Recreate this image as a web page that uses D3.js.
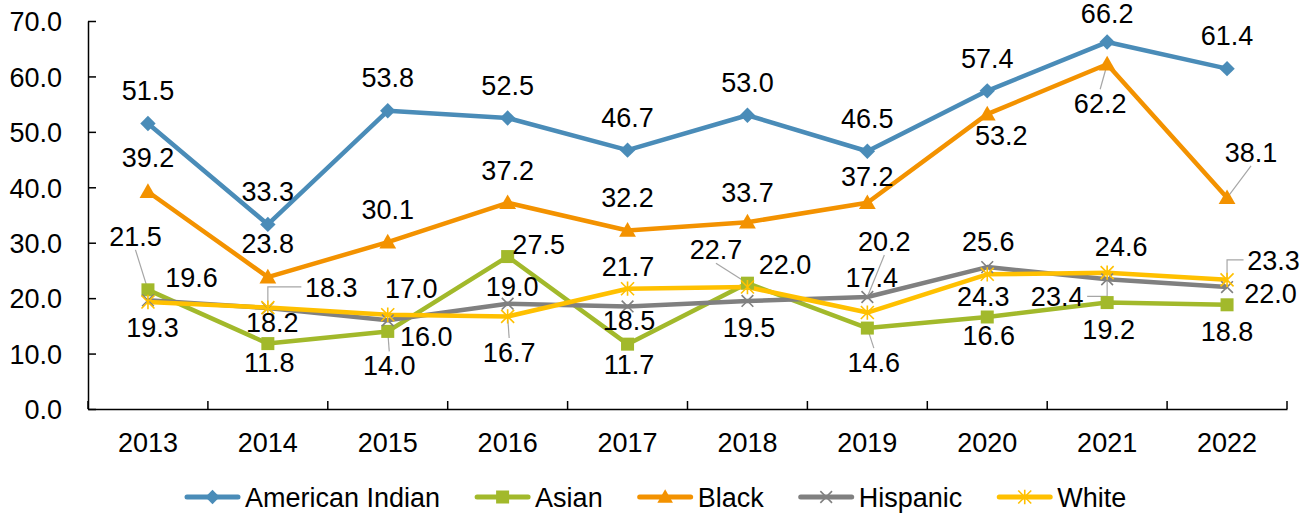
<!DOCTYPE html>
<html>
<head>
<meta charset="utf-8">
<script src="https://cdn.jsdelivr.net/npm/d3@7"></script>
<style>
  html, body { margin: 0; padding: 0; background: #fff; }
  svg { display: block; font-family: "Liberation Sans", Arial, sans-serif; }
</style>
</head>
<body>
<svg id="chart" width="1314" height="514"></svg>
<script>
// ---------------- DATA ----------------
const years = ["2013","2014","2015","2016","2017","2018","2019","2020","2021","2022"];
const americanIndian = [51.5, 33.3, 53.8, 52.5, 46.7, 53.0, 46.5, 57.4, 66.2, 61.4];
const asian          = [21.5, 11.8, 14.0, 27.5, 11.7, 22.7, 14.6, 16.6, 19.2, 18.8];
const black          = [39.2, 23.8, 30.1, 37.2, 32.2, 33.7, 37.2, 53.2, 62.2, 38.1];
const hispanic       = [19.6, 18.2, 16.0, 19.0, 18.5, 19.5, 20.2, 25.6, 23.4, 22.0];
const white          = [19.3, 18.3, 17.0, 16.7, 21.7, 22.0, 17.4, 24.3, 24.6, 23.3];
const seriesNames    = ["American Indian", "Asian", "Black", "Hispanic", "White"];
const yTicks         = [0, 10, 20, 30, 40, 50, 60, 70];

// ---------------- LAYOUT (label placement relative to each point) ----------------
// [dx, dy, leader]  leader: 'v' straight line, 'e' elbow line
const labelPosAmericanIndian = [[0,-33],[0,-33],[0,-33],[0,-33],[0,-33],[0,-33],[0,-33],[0,-33],[0,-29],[0,-33]];
const labelPosAsian    = [[-12.5,-54,'v'],[1.5,19],[1.5,34,'v'],[31,-12],[1.5,20],[-31.5,-34,'v'],[6.5,34,'v'],[1.5,18],[1.5,27],[0,27]];
const labelPosBlack    = [[0,-34],[0,-34],[0,-33],[0,-33],[0,-33.5],[0,-30],[0,-27],[14,21],[-7,39,'v'],[24,-46,'v']];
const labelPosHispanic = [[43.5,-23],[4.5,14.6],[38.5,16],[4.5,-17],[1.5,13.5],[1.5,26.6],[17,-56,'v'],[1,-26],[-50,17,'e'],[43.5,6]];
const labelPosWhite    = [[4.5,25.5],[63.5,-20.6,'e'],[23.5,-26],[1.5,35.6,'v'],[0.5,-22.7],[37.5,-23],[4.5,-35.6],[-4,22],[14,-26.6],[46.5,-20,'e']];

const colors = ["#4A8CB8", "#A2B92B", "#F39200", "#808080", "#FFC000"];
const markers = ["diamond", "square", "triangle", "x", "asterisk"];

const series = [
  { name: seriesNames[0], values: americanIndian, labels: labelPosAmericanIndian },
  { name: seriesNames[1], values: asian,          labels: labelPosAsian },
  { name: seriesNames[2], values: black,          labels: labelPosBlack },
  { name: seriesNames[3], values: hispanic,       labels: labelPosHispanic },
  { name: seriesNames[4], values: white,          labels: labelPosWhite }
].map((s, i) => ({ ...s, color: colors[i], marker: markers[i] }));

// ---------------- CHART ----------------
const svg = d3.select("#chart");
const FONT = 27;
const x = d3.scaleBand().domain(years).range([88, 1287]);
const y = d3.scaleLinear().domain([0, 70]).range([409, 21]);
const cx = d => x(d) + x.bandwidth() / 2;

// Y axis
const yAxis = svg.append("g").attr("transform", `translate(${x.range()[0]},0)`)
  .call(d3.axisLeft(y).tickValues(yTicks).tickFormat(d3.format(".1f"))
    .tickSizeInner(-8).tickSizeOuter(0).tickPadding(26));
yAxis.select(".domain").attr("stroke", "#000").attr("stroke-width", 1.5);
yAxis.selectAll(".tick line").attr("stroke", "#000").attr("stroke-width", 1.5);
yAxis.selectAll(".tick text").attr("font-size", FONT).attr("fill", "#000")
  .attr("font-family", "Liberation Sans, Arial, sans-serif").attr("dy", "0.36em");

// X axis (labels at category centers, tick marks at category boundaries)
const xAxis = svg.append("g").attr("transform", `translate(0,${y(0)})`)
  .call(d3.axisBottom(x).tickSize(0).tickPadding(0));
xAxis.select(".domain").attr("stroke", "#000").attr("stroke-width", 1.5);
xAxis.selectAll(".tick text").attr("font-size", FONT).attr("fill", "#000")
  .attr("font-family", "Liberation Sans, Arial, sans-serif").attr("y", 43).attr("dy", 0);
const boundaries = years.map(d => x(d)).concat([x.range()[1]]);
xAxis.selectAll(".bnd").data(boundaries).enter().append("line")
  .attr("class", "bnd").attr("x1", d => d).attr("x2", d => d)
  .attr("y1", 0).attr("y2", -8).attr("stroke", "#000").attr("stroke-width", 1.5);

// Marker drawing
function drawMarker(g, type, color, size) {
  const s = size;
  if (type === "diamond") {
    g.append("path").attr("d", `M0,${-s*0.55}L${s*0.55},0L0,${s*0.55}L${-s*0.55},0Z`).attr("fill", color);
  } else if (type === "square") {
    g.append("rect").attr("x", -s/2).attr("y", -s/2).attr("width", s).attr("height", s).attr("fill", color);
  } else if (type === "triangle") {
    g.append("path").attr("d", `M0,${-s*0.6}L${s*0.6},${s*0.45}L${-s*0.6},${s*0.45}Z`).attr("fill", color);
  } else if (type === "x") {
    const r = s*0.45;
    g.append("path").attr("d", `M${-r},${-r}L${r},${r}M${-r},${r}L${r},${-r}`)
      .attr("stroke", color).attr("stroke-width", 1.6).attr("fill", "none");
  } else if (type === "asterisk") {
    const r = s*0.5;
    g.append("path").attr("d", `M${-r},${-r}L${r},${r}M${-r},${r}L${r},${-r}M0,${-r*1.1}L0,${r*1.1}`)
      .attr("stroke", color).attr("stroke-width", 1.6).attr("fill", "none");
  }
}

const line = d3.line().x((d, i) => cx(years[i])).y(d => y(d));

// Lines
series.forEach(s => {
  svg.append("path").datum(s.values).attr("d", line)
    .attr("fill", "none").attr("stroke", s.color).attr("stroke-width", 4.5)
    .attr("stroke-linejoin", "round");
});

// Leader lines (under markers)
const leaderG = svg.append("g");
series.forEach(s => {
  s.values.forEach((v, i) => {
    const lp = s.labels[i];
    if (!lp[2]) return;
    const px = cx(years[i]), py = y(v);
    const lx = px + lp[0], ly = py + lp[1];
    let pts;
    if (lp[2] === 'v') {
      const sy = ly + (lp[1] < 0 ? 14 : -14);
      pts = [[lx, sy], [px, py]];
    } else {
      const sx = lx + (lp[0] < 0 ? 30 : -30);
      pts = [[sx, ly], [px, ly], [px, py]];
    }
    leaderG.append("path").attr("d", d3.line()(pts))
      .attr("fill", "none").attr("stroke", "#A6A6A6").attr("stroke-width", 1.2);
  });
});

// Markers
series.forEach(s => {
  s.values.forEach((v, i) => {
    const g = svg.append("g").attr("transform", `translate(${cx(years[i])},${y(v)})`);
    drawMarker(g, s.marker, s.color, s.marker === "square" ? 13 : (s.marker === "asterisk" || s.marker === "x") ? 13 : 14);
  });
});

// Data labels
series.forEach(s => {
  s.values.forEach((v, i) => {
    const lp = s.labels[i];
    svg.append("text")
      .attr("x", cx(years[i]) + lp[0])
      .attr("y", y(v) + lp[1] + 9.7)
      .attr("text-anchor", "middle").attr("font-size", FONT).attr("fill", "#000")
      .text(d3.format(".1f")(v));
  });
});

// Legend
const legend = svg.append("g");
let lxPos = 185;
const legendY = 497;
series.forEach(s => {
  const g = legend.append("g").attr("transform", `translate(${lxPos},${legendY})`);
  g.append("line").attr("x1", 2).attr("x2", 53).attr("y1", 0).attr("y2", 0)
    .attr("stroke", s.color).attr("stroke-width", 5).attr("stroke-linecap", "round");
  const mg = g.append("g").attr("transform", "translate(27.5,0)");
  drawMarker(mg, s.marker, s.color, 13);
  const t = g.append("text").attr("x", 60).attr("y", 9.7).attr("font-size", FONT).attr("fill", "#000").text(s.name);
  lxPos += 60 + t.node().getComputedTextLength() + 35;
});
</script>
</body>
</html>
